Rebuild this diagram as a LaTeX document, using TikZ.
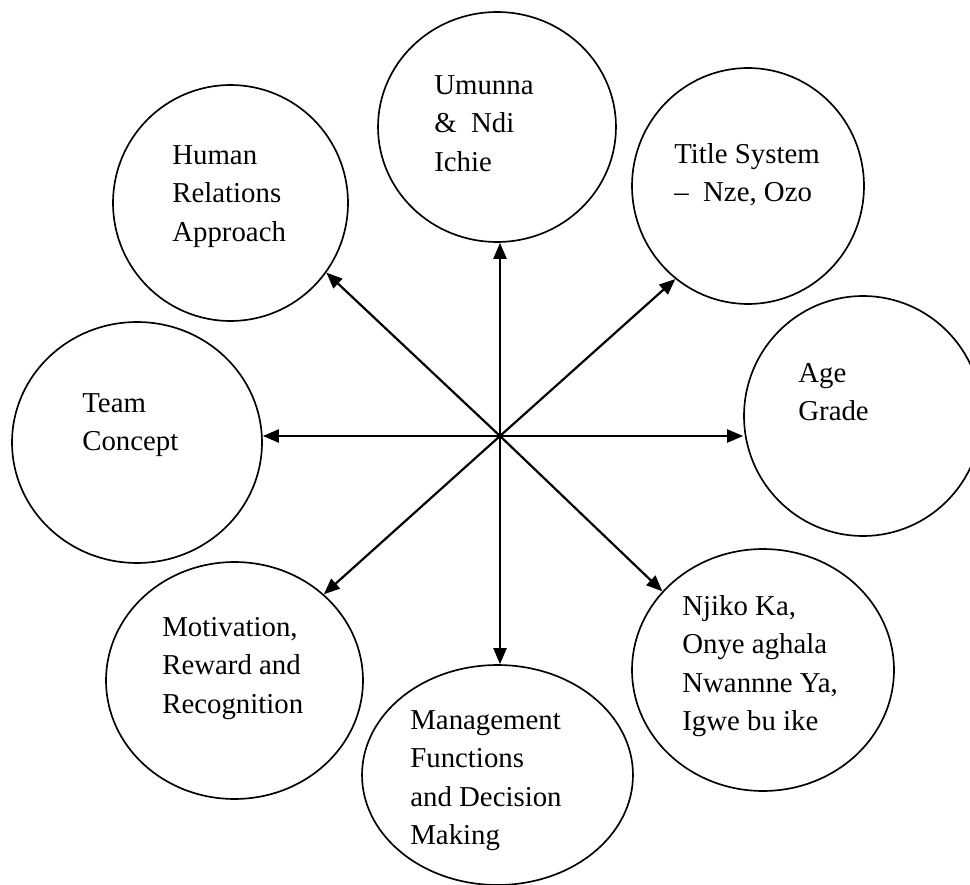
\documentclass[tikz,border=0pt]{standalone}
\usepackage{fontspec}
\setmainfont{Liberation Serif}
\usepackage{tikz}
\usetikzlibrary{arrows.meta, shapes.geometric}

\begin{document}
\begin{tikzpicture}[
        x=0.02cm, y=-0.02cm,
        bubble/.style={ellipse, draw=black, line width=0.95pt, inner sep=0pt},
        txt/.style={anchor=north west, inner sep=0pt, align=left, font=\fontsize{16.4}{21.9}\selectfont},
        arrow/.style={-{Triangle[length=3.2mm, width=2.6mm]}, line width=1.25pt}
    ]
        \useasboundingbox (0,0) rectangle (970,885);
        \clip (0,0) rectangle (970,885);

        % Circles
        \node[bubble, minimum width=4.70cm, minimum height=4.72cm] (hr) at (230.5,203) {};
        \node[bubble, minimum width=4.76cm, minimum height=4.60cm] (umunna) at (497,127) {};
        \node[bubble, minimum width=4.64cm, minimum height=4.72cm] (title) at (748,186) {};
        \node[bubble, minimum width=4.76cm, minimum height=4.80cm] (age) at (863,416) {};
        \node[bubble, minimum width=5.24cm, minimum height=4.84cm] (njiko) at (763,670) {};
        \node[bubble, minimum width=5.42cm, minimum height=4.40cm] (mgmt) at (497.5,775) {};
        \node[bubble, minimum width=5.14cm, minimum height=4.74cm] (motiv) at (234.5,680.5) {};
        \node[bubble, minimum width=5.00cm, minimum height=4.82cm] (team) at (137,442.5) {};

        % Texts
        \node[txt] (hr-t) at (172,145) {Human\\Relations\\Approach};
        \node[txt] (umunna-t) at (434,75) {Umunna\\\&\ \ Ndi\\Ichie};
        \node[txt] (title-t) at (674,143) {Title System\\–\ \ Nze, Ozo};
        \node[txt] (age-t) at (798,363) {Age\\Grade};
        \node[txt] (njiko-t) at (682,595) {Njiko Ka,\\Onye aghala\\Nwannne Ya,\\Igwe bu ike};
        \node[txt] (mgmt-t) at (410,710) {Management\\Functions\\and Decision\\Making};
        \node[txt] (motiv-t) at (162,617) {Motivation,\\Reward and\\Recognition};
        \node[txt] (team-t) at (82,393) {Team\\Concept};

        % Arrows from the centre
        \coordinate (c) at (500,436);
        \draw[arrow] (c) -- (c |- umunna.south);
        \draw[arrow] (c) -- (title.232);
        \draw[arrow] (c) -- (c -| age.west);
        \draw[arrow] (c) -- (njiko.142);
        \draw[arrow] (c) -- (c |- mgmt.north);
        \draw[arrow] (c) -- (motiv.44);
        \draw[arrow] (c) -- (c -| team.east);
        \draw[arrow] (c) -- (hr.-36);
    \end{tikzpicture}
\end{document}
